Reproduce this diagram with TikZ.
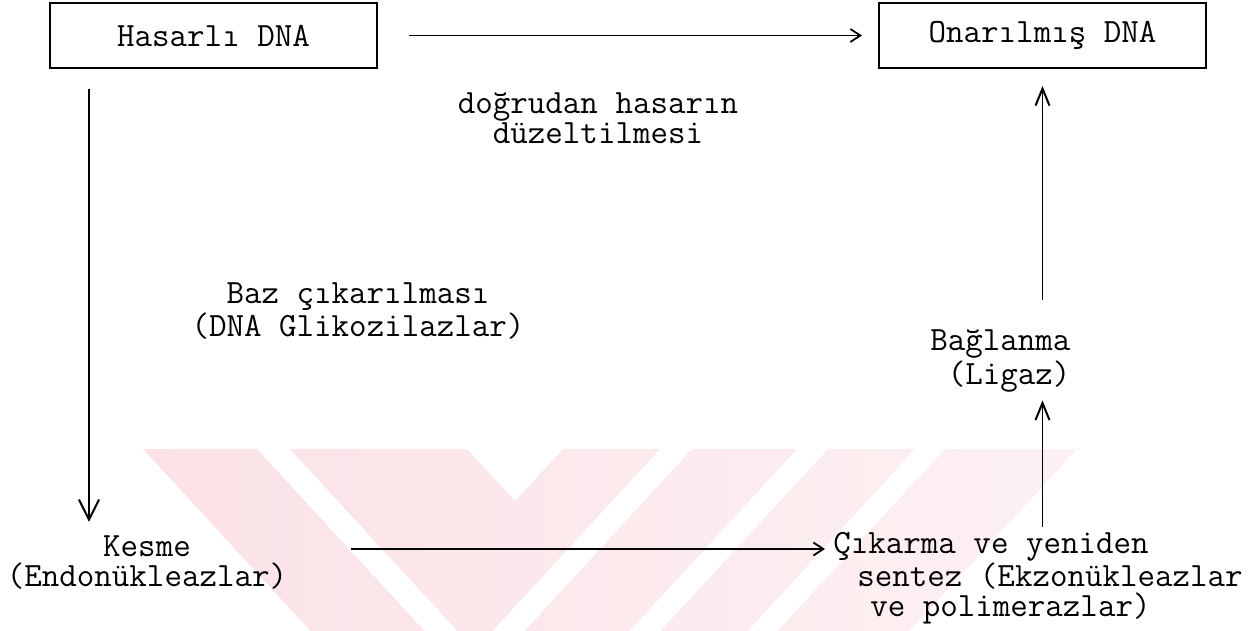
\documentclass[tikz,border=0pt]{standalone}
\usepackage{fontspec}
\usetikzlibrary{arrows.meta,calc}
\definecolor{wmA}{RGB}{251,226,231}
\definecolor{wmB}{RGB}{253,241,243}
\begin{document}
\begin{tikzpicture}[x=0.5pt,y=-0.5pt,
  every node/.style={font=\ttfamily\fontsize{17}{15}\selectfont, inner sep=0pt},
  boxnode/.style={draw, line width=1pt, minimum width=163.5pt, minimum height=32.5pt},
  txt/.style={align=center},
  conn/.style={line width=0.9pt},
  tipright/.style={-{Straight Barb[length=5pt,width=6.5pt,line width=0.9pt]}},
  tipdown/.style={-{Straight Barb[length=10pt,width=10pt,line width=1pt]}},
  tipup/.style={-{Straight Barb[length=8.5pt,width=7pt,line width=1pt]}}]
\useasboundingbox (0,0) rectangle (1253,631);

% pale striped emblem in the lower part
\begin{scope}
  \clip (0,449) rectangle (1253,631);
  \shade[left color=wmA, right color=wmB]
    (143,449) -- (257,449) -- (441,649) -- (327,649) -- cycle
    (290,449) -- (467,449) -- (515,501) -- (563,449) -- (660,449) -- (476,649) -- (474,649) -- cycle
    (692,449) -- (797,449) -- (613,649) -- (508,649) -- cycle
    (828,449) -- (915,449) -- (731,649) -- (644,649) -- cycle
    (945,449) -- (1077,449) -- (893,649) -- (761,649) -- cycle;
\end{scope}

% boxes
\node[boxnode] (dam) at (213.5,35.5) {Hasarlı DNA};
\node[boxnode] (rep) at (1042.5,35.5) {Onarılmış DNA};

% labels
\node[txt] (direct) at (598,118) {doğrudan hasarın\\düzeltilmesi};
\node[txt] (base) at (358,311) {Baz çıkarılması\\(DNA Glikozilazlar)};
\node[txt] (cut) at (147,563) {Kesme\\(Endonükleazlar)};
\node[align=left, anchor=west] (lig) at (930,361) {Bağlanma\\\ (Ligaz)};
\node[align=left, anchor=west] (exc) at (833,578)
  {Çıkarma ve yeniden\\\hspace*{12pt}sentez (Ekzonükleazlar\\\hspace*{18.5pt}ve polimerazlar)};

% connectors
\coordinate (dl) at ($(dam.south west)+(40,0)$);
\coordinate (rx) at (rep.south);

\draw[conn,tipright,shorten <=15.5pt,shorten >=8pt] (dam.east) -- (rep.west);
\draw[conn,tipdown,shorten <=10pt,shorten >=7pt] (dl) -- (dl |- cut.north);
\draw[conn,tipright,shorten <=32pt,shorten >=4pt]
  ([yshift=7pt]cut.east) -- ([yshift=7pt]cut.east -| exc.west);
\draw[conn,tipup,shorten <=2.5pt,shorten >=4pt] (rx |- exc.north) -- (rx |- lig.south);
\draw[conn,tipup,shorten <=15pt,shorten >=8.5pt] (rx |- lig.north) -- (rx);
\end{tikzpicture}
\end{document}
